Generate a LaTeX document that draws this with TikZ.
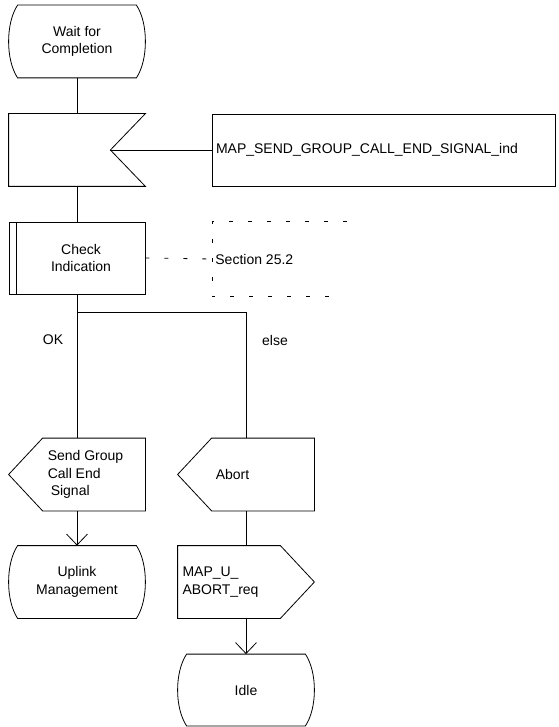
\documentclass[tikz,border=0pt]{standalone}
\usepackage{fontspec}
\setmainfont{Liberation Sans}
\usetikzlibrary{arrows.meta}
\tikzset{
  >={Straight Barb[length=11pt,width=21pt]},
  sdlbox/.style={minimum width=136pt,minimum height=72pt,inner sep=2pt,
    align=center},
  sdlstate/.style={sdlbox},
  sdlin/.style={sdlbox},
  sdlout/.style={sdlbox,align=left},
  sdlproc/.style={sdlbox,draw},
  sigbox/.style={draw,minimum height=72pt,text width=335pt,inner xsep=4pt,
    align=left},
  notebox/.style={minimum height=74pt,inner xsep=3pt,anchor=west},
  noteline/.style={line width=0.8pt,dash pattern=on 4pt off 15pt},
  flowlbl/.style={inner sep=1pt},
}

\begin{document}
\begin{tikzpicture}[x=1pt,y=-1pt,line width=0.8pt,
    every node/.style={font=\fontsize{14}{17.5}\selectfont}]
  \useasboundingbox (0,0) rectangle (558,727);
  \node[sdlstate] (wait) at (77,41.5) {Wait for\\Completion};
  \node[sdlin] (insig) at (77,150) {};
  \coordinate (notch) at ([xshift=-35pt]insig.east);
  \node[sigbox] (sig) at (383.5,150) {MAP\_SEND\_GROUP\_CALL\_END\_SIGNAL\_ind};
  \node[sdlproc] (check) at (77,258) {\hspace*{8pt}Check\\\hspace*{8pt}Indication};
  \node[notebox] (sect) at (212,259) {Section 25.2};
  \coordinate (split) at ([yshift=-18pt]check.south);
  \node[flowlbl] (oklbl) at (53,340) {OK};
  \node[flowlbl] (elselbl) at (275,340) {else};
  \node[sdlout] (sendgrp) at (77,474.5)
    {\hspace*{17pt}Send Group\\\hspace*{17pt}Call End\\\hspace*{20pt}Signal};
  \node[sdlout] (abort) at (246,474.5) {Abort\hspace*{27pt}};
  \node[sdlstate] (uplink) at (77,582) {Uplink\\Management};
  \node[sdlout] (mapabort) at (246,582) {MAP\_U\_\hspace*{51pt}\\ABORT\_req\hspace*{51pt}};
  \node[sdlstate,minimum height=71pt] (idle) at (246,690) {Idle};

  \foreach \n in {wait,uplink,idle}
    \draw ([xshift=9pt]\n.north west) -- ([xshift=-9pt]\n.north east)
      .. controls ([xshift=3pt,yshift=-18pt]\n.north east)
         and ([xshift=3pt,yshift=18pt]\n.south east) .. ([xshift=-9pt]\n.south east)
      -- ([xshift=9pt]\n.south west)
      .. controls ([xshift=-3pt,yshift=18pt]\n.south west)
         and ([xshift=-3pt,yshift=-18pt]\n.north west) .. cycle;
  \draw (insig.north west) -- (insig.north east) -- (notch)
    -- (insig.south east) -- (insig.south west) -- cycle;
  \draw ([xshift=8pt]check.north west) -- ([xshift=8pt]check.south west);
  \foreach \n in {sendgrp,abort}
    \draw ([xshift=34pt]\n.north west) -- (\n.north east) -- (\n.south east)
      -- ([xshift=34pt]\n.south west) -- (\n.west) -- cycle;
  \draw (mapabort.north west) -- ([xshift=-34pt]mapabort.north east)
    -- (mapabort.east) -- ([xshift=-34pt]mapabort.south east)
    -- (mapabort.south west) -- cycle;
  \draw[noteline] ([xshift=135pt]sect.north west) -- (sect.north west)
    -- (sect.south west) -- ([xshift=120pt]sect.south west);

  \draw (wait) -- (insig);
  \draw (notch) -- (sig.west);
  \draw (insig) -- (check);
  \draw[noteline] (check.east) -- (sect.west);
  \draw (check) -- (sendgrp);
  \draw (split) -| (abort.north);
  \draw[->] (sendgrp) -- (uplink);
  \draw (abort) -- (mapabort);
  \draw[->] (mapabort) -- (idle);
\end{tikzpicture}
\end{document}
